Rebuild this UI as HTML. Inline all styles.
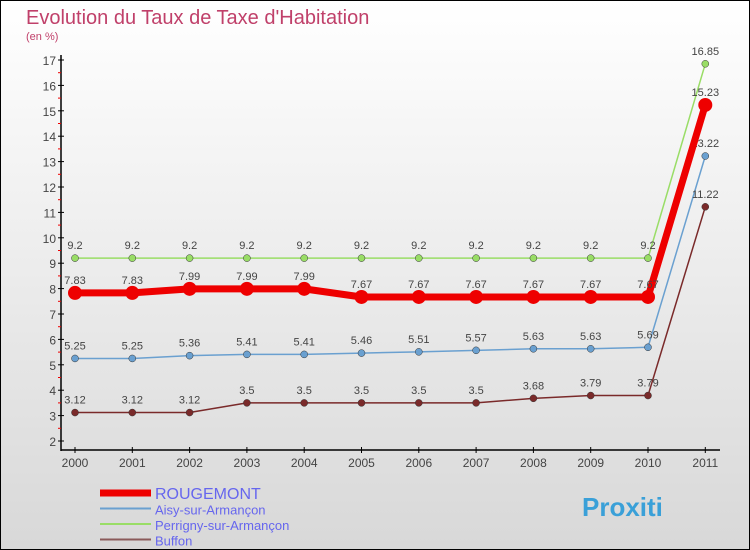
<!DOCTYPE html>
<html><head><meta charset="utf-8"><style>
body{margin:0;width:750px;height:550px;overflow:hidden;font-family:"Liberation Sans",sans-serif}
#c{position:absolute;left:0;top:0;width:748px;height:548px;border:1px solid #000;background:linear-gradient(#fff,#d8d8d8)}
</style></head><body>
<div id="c">
<svg id="s" width="750" height="550" style="position:absolute;left:-1px;top:-1px">
<text x="26" y="24" font-size="20" fill="#c0406a">Evolution du Taux de Taxe d'Habitation</text>
<text x="26" y="40" font-size="11" fill="#c0406a">(en %)</text>
</svg>
</div>
<script>
const years=["2000","2001","2002","2003","2004","2005","2006","2007","2008","2009","2010","2011"];
const yTicks=[2,3,4,5,6,7,8,9,10,11,12,13,14,15,16,17];
const rougemont=[7.83,7.83,7.99,7.99,7.99,7.67,7.67,7.67,7.67,7.67,7.67,15.23];
const aisy=[5.25,5.25,5.36,5.41,5.41,5.46,5.51,5.57,5.63,5.63,5.69,13.22];
const perrigny=[9.2,9.2,9.2,9.2,9.2,9.2,9.2,9.2,9.2,9.2,9.2,16.85];
const buffon=[3.12,3.12,3.12,3.5,3.5,3.5,3.5,3.5,3.68,3.79,3.79,11.22];
const NS="http://www.w3.org/2000/svg",svg=document.getElementById('s');
const X=i=>75+i*57.3, Y=v=>441-(v-2)*25.4;
function el(t,a,p){const e=document.createElementNS(NS,t);for(const k in a)e.setAttribute(k,a[k]);(p||svg).appendChild(e);return e;}
let a=el('line',{x1:61,y1:55,x2:61,y2:451,stroke:'#000','stroke-width':1.5});

a=el('line',{x1:61,y1:450,x2:720,y2:450,stroke:'#000','stroke-width':1.5});

yTicks.forEach(v=>{el('line',{x1:58,y1:Y(v),x2:64,y2:Y(v),stroke:'#000'});
 if(v<17)el('line',{x1:58,y1:Y(v+0.5),x2:61,y2:Y(v+0.5),stroke:'#e00'});
 const t=el('text',{x:56,y:Y(v)+5,'text-anchor':'end','font-size':12,fill:'#444'});t.textContent=v;
 });
years.forEach((y,i)=>{el('line',{x1:X(i),y1:447,x2:X(i),y2:453,stroke:'#000'});
 const t=el('text',{x:X(i),y:467,'text-anchor':'middle','font-size':12,fill:'#444'});t.textContent=y;
 });
function series(d,col,w,r,name,lab){
 const g=el('g',{});
 el('polyline',{points:d.map((v,i)=>X(i)+','+Y(v)).join(' '),fill:'none',stroke:col,'stroke-width':w,'stroke-linejoin':'round'},g);
 d.forEach((v,i)=>{const c=el('circle',{cx:X(i),cy:Y(v),r:r,fill:col,stroke:'#333','stroke-width':r>5?0:0.5},g);
  
  if(lab){const t=el('text',{x:X(i),y:Y(v)-9,'text-anchor':'middle','font-size':11,fill:'#444'},g);t.textContent=v;}});
}
series(perrigny,'#99dd66',1.5,3.5,'perrigny',true);
series(aisy,'#6aa0d0',1.5,3.5,'aisy',true);
series(buffon,'#7a2a2a',1.5,3.5,'buffon',true);
series(rougemont,'#ee0000',7,7,'rougemont',true);
const leg=[['ROUGEMONT','#ee0000',7,16],['Aisy-sur-Armançon','#6aa0d0',2,13],['Perrigny-sur-Armançon','#99dd66',2,13],['Buffon','#8a5a5a',2,13]];
leg.forEach((l,i)=>{const g=el('g',{});
 const y=493+i*15.5;el('line',{x1:100,y1:y,x2:151,y2:y,stroke:l[1],'stroke-width':l[2]},g);
 const t=el('text',{x:155,y:y+6,'font-size':l[3],fill:'#6666ee'},g);t.textContent=l[0];});
const p=el('text',{x:582,y:516,'font-size':26,'font-weight':'bold',fill:'#3aa0d8'});p.textContent='Proxiti';

</script>
</body></html>
